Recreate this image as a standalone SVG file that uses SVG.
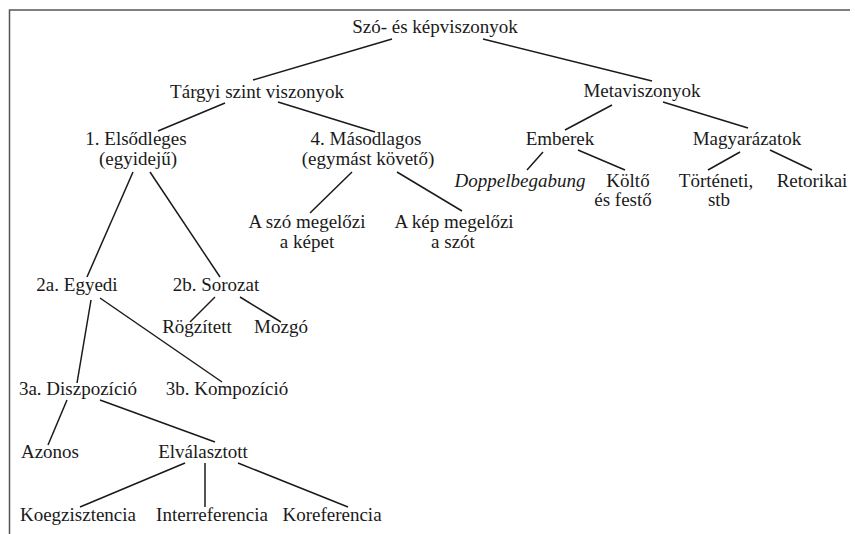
<svg xmlns="http://www.w3.org/2000/svg" width="855" height="534" viewBox="0 0 855 534">
<style>
text{font-family:"Liberation Serif","DejaVu Serif",serif;font-size:19px;fill:#1a1a1a;text-anchor:middle}
.it{font-style:italic}
.c line{stroke:#1a1a1a;stroke-width:1.5}
.frame{stroke:#555;stroke-width:1.5;fill:none}
</style>
<rect width="855" height="534" fill="#fff"/>
<path class="frame" d="M9.5 534 V10 H850"/>
<g class="c" id="connectors">
<line x1="392" y1="39" x2="253" y2="80"/>
<line x1="483" y1="39" x2="652" y2="81"/>
<line x1="225" y1="103" x2="158" y2="131"/>
<line x1="278" y1="102" x2="375" y2="132"/>
<line x1="133" y1="172" x2="87" y2="277"/>
<line x1="150" y1="172" x2="220" y2="277"/>
<line x1="352" y1="172" x2="310" y2="213"/>
<line x1="397" y1="172" x2="462" y2="211"/>
<line x1="612" y1="105" x2="565" y2="130"/>
<line x1="663" y1="102" x2="748" y2="128"/>
<line x1="543" y1="152" x2="527" y2="170"/>
<line x1="578" y1="150" x2="625" y2="170"/>
<line x1="740" y1="152" x2="708" y2="170"/>
<line x1="770" y1="150" x2="812" y2="170"/>
<line x1="215" y1="297" x2="190" y2="322"/>
<line x1="240" y1="297" x2="281" y2="322"/>
<line x1="91" y1="300" x2="77" y2="383"/>
<line x1="100" y1="298" x2="222" y2="382"/>
<line x1="67" y1="400" x2="48" y2="445"/>
<line x1="100" y1="400" x2="215" y2="442"/>
<line x1="185" y1="463" x2="80" y2="507"/>
<line x1="205" y1="463" x2="205" y2="507"/>
<line x1="238" y1="463" x2="348" y2="507"/>
</g>
<g id="root"><text x="435" y="33">Szó- és képviszonyok</text></g>
<g id="targyi"><text x="257" y="98">Tárgyi szint viszonyok</text></g>
<g id="meta"><text x="642" y="97">Metaviszonyok</text></g>
<g id="elsodleges"><text x="136" y="145">1. Elsődleges</text><text x="138" y="165">(egyidejű)</text></g>
<g id="masodlagos"><text x="366" y="145">4. Másodlagos</text><text x="368" y="165">(egymást követő)</text></g>
<g id="emberek"><text x="560" y="145">Emberek</text></g>
<g id="magyarazatok"><text x="747" y="145">Magyarázatok</text></g>
<g id="doppel"><text class="it" x="520" y="187">Doppelbegabung</text></g>
<g id="kolto"><text x="628" y="187">Költő</text><text x="623" y="206">és festő</text></g>
<g id="torteneti"><text x="716" y="187">Történeti,</text><text x="719" y="206">stb</text></g>
<g id="retorikai"><text x="812" y="187">Retorikai</text></g>
<g id="szo-elozi"><text x="307" y="228">A szó megelőzi</text><text x="307" y="248">a képet</text></g>
<g id="kep-elozi"><text x="454" y="228">A kép megelőzi</text><text x="453" y="248">a szót</text></g>
<g id="egyedi"><text x="77" y="291">2a. Egyedi</text></g>
<g id="sorozat"><text x="216" y="291">2b. Sorozat</text></g>
<g id="rogzitett"><text x="197" y="333">Rögzített</text></g>
<g id="mozgo"><text x="281" y="333">Mozgó</text></g>
<g id="diszpozicio"><text x="78" y="395">3a. Diszpozíció</text></g>
<g id="kompozicio"><text x="227" y="395">3b. Kompozíció</text></g>
<g id="azonos"><text x="50" y="458">Azonos</text></g>
<g id="elvalasztott"><text x="203" y="458">Elválasztott</text></g>
<g id="koegzisztencia"><text x="78" y="521">Koegzisztencia</text></g>
<g id="interreferencia"><text x="212" y="521">Interreferencia</text></g>
<g id="koreferencia"><text x="332" y="521">Koreferencia</text></g>
</svg>
